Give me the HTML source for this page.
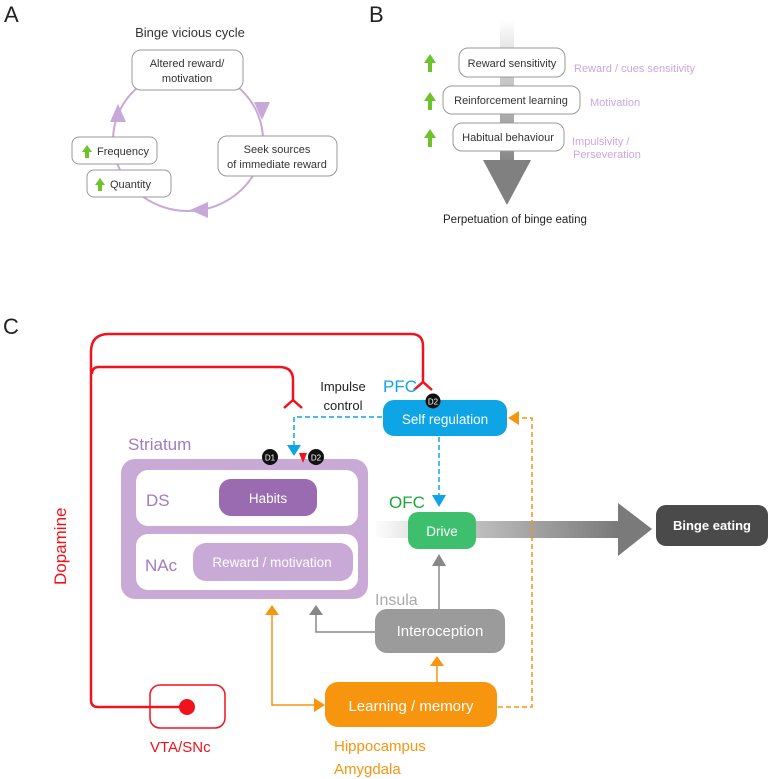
<!DOCTYPE html>
<html><head><meta charset="utf-8"><style>body{margin:0;background:#fff}svg{display:block}text{font-family:"Liberation Sans",sans-serif}</style></head><body>
<svg width="774" height="779" viewBox="0 0 774 779" xmlns="http://www.w3.org/2000/svg">
<defs>
<linearGradient id="gv" x1="0" y1="0" x2="0" y2="1"><stop offset="0" stop-color="#fff"/><stop offset="0.4" stop-color="#ccc"/><stop offset="1" stop-color="#888"/></linearGradient>
<linearGradient id="gh" x1="0" y1="0" x2="1" y2="0"><stop offset="0" stop-color="#fff"/><stop offset="0.3" stop-color="#ccc"/><stop offset="1" stop-color="#777"/></linearGradient>
</defs>
<text x="4" y="22" font-size="22" fill="#222">A</text>
<text x="190" y="37" font-size="13" fill="#333" text-anchor="middle">Binge vicious cycle</text>
<ellipse cx="188" cy="140" rx="75" ry="71" fill="none" stroke="#c8a8d8" stroke-width="2"/>
<polygon points="110,122 126,122 118,104" fill="#c8a8d8"/>
<polygon points="254,102 270,102 262,120" fill="#c8a8d8"/>
<polygon points="208,202 208,218 190,210" fill="#c8a8d8"/>
<rect x="132" y="50" width="111" height="40" rx="9" fill="#fff" stroke="#999"/>
<text x="187" y="67" font-size="11" fill="#333" text-anchor="middle">Altered reward/</text>
<text x="187" y="82" font-size="11" fill="#333" text-anchor="middle">motivation</text>
<rect x="218" y="136" width="119" height="40" rx="9" fill="#fff" stroke="#999"/>
<text x="277" y="153" font-size="11" fill="#333" text-anchor="middle">Seek sources</text>
<text x="277" y="168" font-size="11" fill="#333" text-anchor="middle">of immediate reward</text>
<rect x="72" y="137" width="85" height="27" rx="7" fill="#fff" stroke="#999"/>
<polygon points="82,152 87,145 92,152 89,152 89,158 85,158 85,152" fill="#6cc32a"/>
<text x="97" y="155" font-size="11" fill="#333">Frequency</text>
<rect x="87" y="170" width="84" height="27" rx="7" fill="#fff" stroke="#999"/>
<polygon points="95,185 100,178 105,185 102,185 102,191 98,191 98,185" fill="#6cc32a"/>
<text x="110" y="188" font-size="11" fill="#333">Quantity</text>
<text x="369" y="22" font-size="22" fill="#222">B</text>
<rect x="500" y="20" width="14" height="140" fill="url(#gv)"/>
<polygon points="483,160 531,160 507,205" fill="#808080"/>
<rect x="459" y="48" width="106" height="29" rx="9" fill="#fff" stroke="#999"/>
<text x="512" y="67" font-size="11" fill="#333" text-anchor="middle">Reward sensitivity</text>
<rect x="443" y="86" width="137" height="28" rx="9" fill="#fff" stroke="#999"/>
<text x="511" y="104" font-size="11" fill="#333" text-anchor="middle">Reinforcement learning</text>
<rect x="453" y="123" width="111" height="28" rx="9" fill="#fff" stroke="#999"/>
<text x="508" y="141" font-size="11" fill="#333" text-anchor="middle">Habitual behaviour</text>
<g fill="#6cc32a">
<polygon points="424,63 430,54 436,63 432,63 432,72 428,72 428,63"/>
<polygon points="424,101 430,92 436,101 432,101 432,110 428,110 428,101"/>
<polygon points="424,138 430,129 436,138 432,138 432,147 428,147 428,138"/>
</g>
<g fill="#cba8df" font-size="11">
<text x="574" y="72">Reward / cues sensitivity</text>
<text x="590" y="106">Motivation</text>
<text x="572" y="145">Impulsivity /</text>
<text x="573" y="158">Perseveration</text>
</g>
<text x="443" y="223" font-size="11.5" fill="#222">Perpetuation of binge eating</text>
<text x="3" y="334" font-size="22" fill="#222">C</text>
<g fill="none" stroke="#f0121d" stroke-width="2.5">
<path d="M91,700 V352 Q91,334 109,334 H411 Q423,334 423,346 V382"/>
<path d="M414,390 L423,382 L432,390"/>
<path d="M92,374 Q92,367 99,367 H279 Q293,367 293,380 V400"/>
<path d="M284,408 L293,400 L302,408"/>
<path d="M91,700 Q91,707 98,707 H186"/>
</g>
<rect x="150" y="685" width="75" height="43" rx="10" fill="none" stroke="#f0121d" stroke-width="1.5"/>
<circle cx="187" cy="707" r="8" fill="#f0121d"/>
<text x="150" y="752" font-size="15" fill="#f0121d">VTA/SNc</text>
<text transform="translate(66,585) rotate(-90)" font-size="17" fill="#f0121d">Dopamine</text>
<text x="343" y="391" font-size="13" fill="#222" text-anchor="middle">Impulse</text>
<text x="343" y="410" font-size="13" fill="#222" text-anchor="middle">control</text>
<text x="383" y="392" font-size="17" fill="#0ea5e6">PFC</text>
<rect x="383" y="400" width="124" height="36" rx="11" fill="#0ea5e6"/>
<text x="445" y="424" font-size="13.5" fill="#fff" text-anchor="middle">Self regulation</text>
<circle cx="433" cy="401" r="7.5" fill="#111"/><text x="433" y="404.5" font-size="8" fill="#fff" text-anchor="middle">D2</text>
<path d="M382,417 H294 V446" fill="none" stroke="#0ea5e6" stroke-width="1.5" stroke-dasharray="5,3"/>
<polygon points="287,445 301,445 294,456" fill="#0ea5e6"/>
<path d="M439,437 V496" fill="none" stroke="#0ea5e6" stroke-width="1.5" stroke-dasharray="5,3"/>
<polygon points="432,495 446,495 439,507" fill="#0ea5e6"/>
<text x="128" y="450" font-size="17" fill="#a07cc0">Striatum</text>
<rect x="121" y="459" width="247" height="140" rx="14" fill="#c9aad7"/>
<rect x="136" y="470" width="222" height="56" rx="12" fill="#fff"/>
<rect x="136" y="534" width="222" height="56" rx="12" fill="#fff"/>
<text x="146" y="506" font-size="17" fill="#a07cc0">DS</text>
<text x="145" y="571" font-size="17" fill="#a07cc0">NAc</text>
<rect x="219" y="479" width="98" height="37" rx="12" fill="#9a6bb0"/>
<text x="268" y="503" font-size="13.5" fill="#fff" text-anchor="middle">Habits</text>
<rect x="193" y="543" width="160" height="38" rx="13" fill="#c9aad7"/>
<text x="272" y="567" font-size="13.5" fill="#fff" text-anchor="middle">Reward / motivation</text>
<circle cx="270" cy="457" r="8" fill="#111"/><text x="270" y="460.5" font-size="8" fill="#fff" text-anchor="middle">D1</text>
<polygon points="299,453 307,453 303,463" fill="#f0121d"/>
<circle cx="316" cy="457" r="8" fill="#111"/><text x="316" y="460.5" font-size="8" fill="#fff" text-anchor="middle">D2</text>
<text x="389" y="508" font-size="17" fill="#1aa83c">OFC</text>
<rect x="373" y="521" width="250" height="17" fill="url(#gh)"/>
<polygon points="618,503 618,556 652,529" fill="#7a7a7a"/>
<rect x="408" y="512" width="68" height="37" rx="10" fill="#3dbf6e"/>
<text x="442" y="536" font-size="13.5" fill="#fff" text-anchor="middle">Drive</text>
<rect x="656" y="505" width="112" height="41" rx="10" fill="#4a4a4a"/>
<text x="712" y="530" font-size="13" font-weight="bold" fill="#fff" text-anchor="middle">Binge eating</text>
<path d="M439,609 V565" stroke="#888" stroke-width="1.5"/>
<polygon points="432,566 446,566 439,554" fill="#888"/>
<text x="375" y="605" font-size="16" fill="#aaa">Insula</text>
<rect x="375" y="609" width="130" height="44" rx="12" fill="#9b9b9b"/>
<text x="440" y="636" font-size="15" fill="#fff" text-anchor="middle">Interoception</text>
<path d="M375,632 H316 V614" fill="none" stroke="#888" stroke-width="1.5"/>
<polygon points="309,615 323,615 316,605" fill="#888"/>
<path d="M272,615 V705 H315" fill="none" stroke="#f7950f" stroke-width="1.5"/>
<polygon points="265,615 279,615 272,605" fill="#f7950f"/>
<polygon points="314,698 314,712 325,705" fill="#f7950f"/>
<rect x="325" y="682" width="172" height="45" rx="13" fill="#f7950f"/>
<text x="411" y="711" font-size="15" fill="#fff" text-anchor="middle">Learning / memory</text>
<path d="M437,682 V665" stroke="#f7950f" stroke-width="1.5"/>
<polygon points="430,666 444,666 437,656" fill="#f7950f"/>
<path d="M498,707 H532 V418 H518" fill="none" stroke="#f7950f" stroke-width="1.5" stroke-dasharray="5,3"/>
<polygon points="519,411 519,425 508,418" fill="#f7950f"/>
<text x="334" y="751" font-size="15" fill="#f7950f">Hippocampus</text>
<text x="334" y="774" font-size="15" fill="#f7950f">Amygdala</text>
</svg>
</body></html>
